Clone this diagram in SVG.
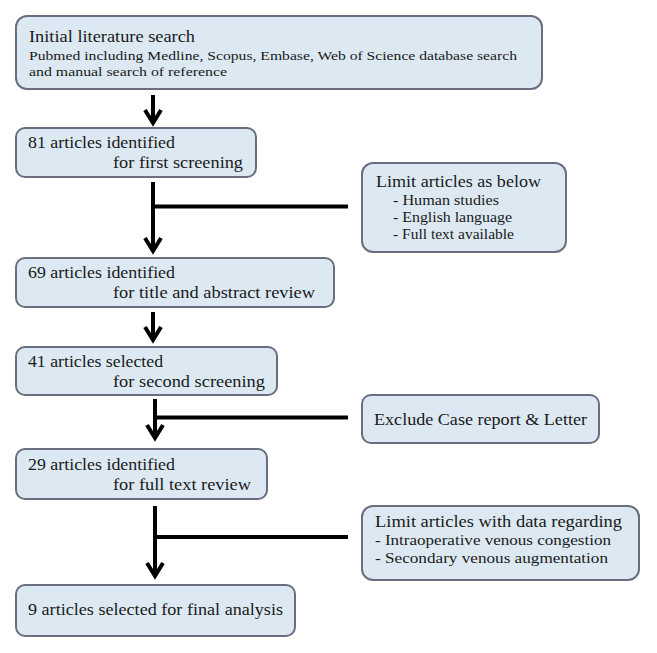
<svg xmlns="http://www.w3.org/2000/svg" width="657" height="653" viewBox="0 0 657 653">
<style>
.box{fill:#dce9f2;stroke:#6a6e80;stroke-width:2}
text{font-family:"Liberation Serif","Times New Roman",serif;fill:#1a1a1a}
.m{font-size:17px}
.s{font-size:13.5px}
.t{font-size:14px}
.c{stroke:#000;stroke-width:4;fill:none}
</style>
<defs>
<marker id="ah" viewBox="-16 -11 20 22" markerWidth="20" markerHeight="22" refX="0" refY="0" orient="auto" markerUnits="userSpaceOnUse">
<path d="M-13,-8 L0,0 L-13,8" fill="none" stroke="#000" stroke-width="4" stroke-linejoin="miter"/>
</marker>
</defs>
<rect width="657" height="653" fill="#fff"/>
<g id="connectors">
<line class="c" x1="153" y1="95" x2="153" y2="123" marker-end="url(#ah)"/>
<line class="c" x1="153" y1="182" x2="153" y2="251" marker-end="url(#ah)"/>
<line class="c" x1="153" y1="206.5" x2="348" y2="206.5"/>
<line class="c" x1="153" y1="312" x2="153" y2="340" marker-end="url(#ah)"/>
<line class="c" x1="155" y1="399" x2="155" y2="438" marker-end="url(#ah)"/>
<line class="c" x1="155" y1="417.5" x2="348" y2="417.5"/>
<line class="c" x1="155" y1="506" x2="155" y2="576" marker-end="url(#ah)"/>
<line class="c" x1="155" y1="537" x2="348" y2="537"/>
</g>
<g id="n1">
<rect class="box" x="16" y="16" width="526" height="73" rx="11"/>
<text class="m" x="29" y="42" textLength="166" lengthAdjust="spacingAndGlyphs">Initial literature search</text>
<text class="s" x="29" y="60" textLength="488" lengthAdjust="spacingAndGlyphs">Pubmed including Medline, Scopus, Embase, Web of Science database search</text>
<text class="s" x="29" y="76" textLength="198" lengthAdjust="spacingAndGlyphs">and manual search of reference</text>
</g>
<g id="n2">
<rect class="box" x="16" y="128" width="240" height="49" rx="9"/>
<text class="m" x="28" y="148" textLength="147" lengthAdjust="spacingAndGlyphs">81 articles identified</text>
<text class="m" x="113" y="168" textLength="130" lengthAdjust="spacingAndGlyphs">for first screening</text>
</g>
<g id="n3">
<rect class="box" x="362" y="163" width="204" height="89" rx="11"/>
<text class="m" x="376" y="187" textLength="165" lengthAdjust="spacingAndGlyphs">Limit articles as below</text>
<text class="t" x="393" y="205" textLength="106" lengthAdjust="spacingAndGlyphs">- Human studies</text>
<text class="t" x="393" y="222" textLength="119" lengthAdjust="spacingAndGlyphs">- English language</text>
<text class="t" x="393" y="239" textLength="121" lengthAdjust="spacingAndGlyphs">- Full text available</text>
</g>
<g id="n4">
<rect class="box" x="16" y="258" width="318" height="49" rx="9"/>
<text class="m" x="28" y="278" textLength="147" lengthAdjust="spacingAndGlyphs">69 articles identified</text>
<text class="m" x="113" y="298" textLength="202" lengthAdjust="spacingAndGlyphs">for title and abstract review</text>
</g>
<g id="n5">
<rect class="box" x="16" y="347" width="261" height="48" rx="9"/>
<text class="m" x="28" y="367" textLength="135" lengthAdjust="spacingAndGlyphs">41 articles selected</text>
<text class="m" x="113" y="387" textLength="152" lengthAdjust="spacingAndGlyphs">for second screening</text>
</g>
<g id="n6">
<rect class="box" x="362" y="395" width="237" height="48" rx="9"/>
<text class="m" x="374" y="425" textLength="213" lengthAdjust="spacingAndGlyphs">Exclude Case report &amp; Letter</text>
</g>
<g id="n7">
<rect class="box" x="16" y="449" width="251" height="50" rx="9"/>
<text class="m" x="28" y="470" textLength="147" lengthAdjust="spacingAndGlyphs">29 articles identified</text>
<text class="m" x="113" y="490" textLength="138" lengthAdjust="spacingAndGlyphs">for full text review</text>
</g>
<g id="n8">
<rect class="box" x="362" y="506" width="277" height="74" rx="11"/>
<text class="m" x="375" y="527" textLength="247" lengthAdjust="spacingAndGlyphs">Limit articles with data regarding</text>
<text class="t" x="375" y="545" textLength="236" lengthAdjust="spacingAndGlyphs">- Intraoperative venous congestion</text>
<text class="t" x="375" y="563" textLength="233" lengthAdjust="spacingAndGlyphs">- Secondary venous augmentation</text>
</g>
<g id="n9">
<rect class="box" x="16" y="585" width="279" height="51" rx="9"/>
<text class="m" x="28" y="615" textLength="255" lengthAdjust="spacingAndGlyphs">9 articles selected for final analysis</text>
</g>
</svg>
